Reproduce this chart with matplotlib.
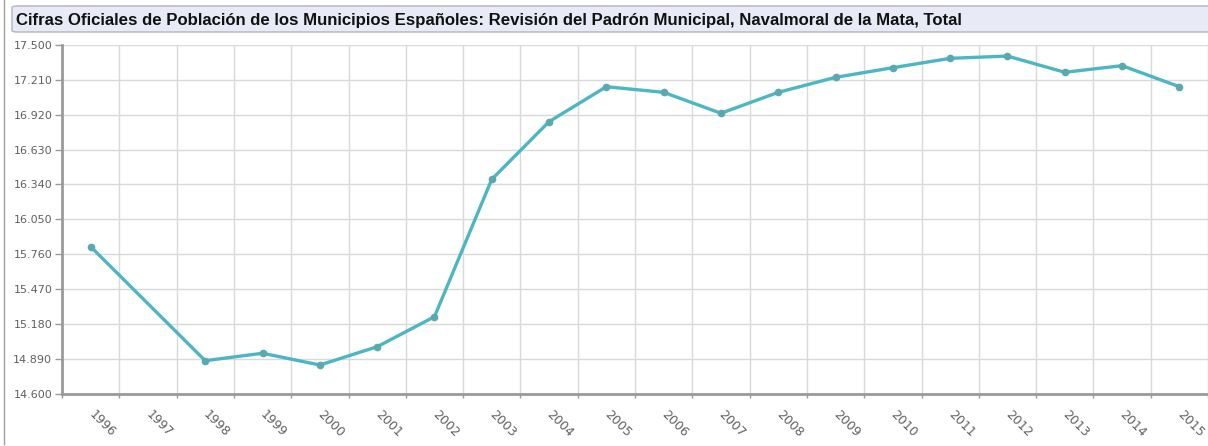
import numpy as np
import matplotlib
matplotlib.use("Agg")
import matplotlib.pyplot as plt
from matplotlib.patches import FancyBboxPatch
from matplotlib.lines import Line2D
from matplotlib.ticker import FixedLocator, FuncFormatter

# data (1997 has no value)
years = [1996, 1997, 1998, 1999, 2000, 2001, 2002, 2003, 2004, 2005,
         2006, 2007, 2008, 2009, 2010, 2011, 2012, 2013, 2014, 2015]
population = [15822, np.nan, 14873, 14935, 14837, 14989, 15239, 16382, 16862, 17153,
              17106, 16932, 17106, 17231, 17311, 17389, 17408, 17273, 17328, 17153]
y_ticks = [14600, 14890, 15180, 15470, 15760, 16050, 16340, 16630, 16920, 17210, 17500]
title = ("Cifras Oficiales de Población de los Municipios Españoles: "
         "Revisión del Padrón Municipal, Navalmoral de la Mata, Total")

line_col = "#4cb6c2"
grid_col = "#d9d9d9"
axis_col = "#9a9a9a"
label_col = "#606060"

fig = plt.figure(figsize=(12.08, 4.46), dpi=100)
W, H = 1208, 446
ax = fig.add_axes([62 / W, (H - 393.5) / H, (W - 62) / W, 348.5 / H])

x = np.arange(len(years))
pop = np.array(population, dtype=float)
ok = ~np.isnan(pop)
ax.plot(x[ok], pop[ok], color=line_col, lw=2.4, marker="o", ms=4.5,
        mfc="#5aa9b0", mec="#5aa9b0", zorder=3, solid_joinstyle="round")

ax.set_xlim(-0.5, len(years) - 0.5)
ax.set_ylim(y_ticks[0], y_ticks[-1])

ax.set_yticks(y_ticks)
ax.yaxis.set_major_formatter(FuncFormatter(lambda v, p: f"{v/1000:.3f}"))
ax.set_xticks(x)
ax.set_xticklabels([str(y) for y in years])
ax.xaxis.set_minor_locator(FixedLocator(np.arange(-0.5, len(years), 1.0)))

ax.grid(axis="y", which="major", color=grid_col, lw=1)
ax.grid(axis="x", which="minor", color=grid_col, lw=1)
ax.set_axisbelow(True)

for s in ["top", "right"]:
    ax.spines[s].set_visible(False)
for s in ["left", "bottom"]:
    ax.spines[s].set_color(axis_col)
    ax.spines[s].set_linewidth(2)

ax.tick_params(axis="y", length=5, width=1, color=axis_col, labelsize=8,
               labelcolor=label_col, pad=2)
ax.tick_params(axis="x", which="major", length=0, labelsize=9,
               labelcolor=label_col, pad=14)
ax.tick_params(axis="x", which="minor", length=3, width=1, color=axis_col)
for lab in ax.get_xticklabels():
    lab.set_rotation(-45)
    lab.set_ha("left")
    lab.set_va("center")
    lab.set_rotation_mode("anchor")
    lab.set_family("DejaVu Sans")
for lab in ax.get_yticklabels():
    lab.set_family("DejaVu Sans")

# title bar
bar = FancyBboxPatch((12 / W, (H - 32) / H), (W - 4) / W, 26 / H,
                     boxstyle="round,pad=0,rounding_size=0.004",
                     transform=fig.transFigure, facecolor="#e8ebf5",
                     edgecolor="#b0b4c0", lw=1, clip_on=False)
fig.patches.append(bar)
fig.text(16 / W, (H - 20) / H, title, fontsize=12.1, fontweight="bold",
         family="Liberation Sans", color="#111111", va="center", ha="left")

# left frame line
fig.add_artist(Line2D([4 / W, 4 / W], [2 / H, 1], transform=fig.transFigure,
                      color="#a0a0a0", lw=1))

fig.savefig("out.png", dpi=100)
